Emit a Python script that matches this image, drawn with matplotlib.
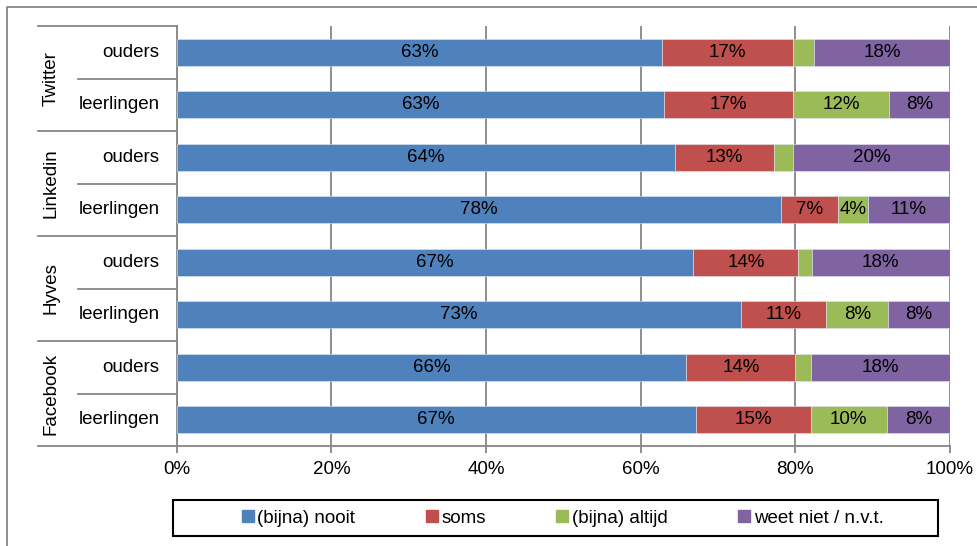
import matplotlib
matplotlib.use("Agg")
import matplotlib.pyplot as plt
import matplotlib.transforms as mtransforms
from matplotlib.patches import Rectangle
from matplotlib.lines import Line2D
import numpy as np

plt.rcParams['font.family'] = ['Liberation Sans', 'DejaVu Sans']

# data, top row first
platforms = ['Twitter', 'Linkedin', 'Hyves', 'Facebook']
groups = ['ouders', 'leerlingen']
series = ['(bijna) nooit', 'soms', '(bijna) altijd', 'weet niet / n.v.t.']
colors = ['#4F81BD', '#C0504D', '#9BBB59', '#8064A2']

nooit = [62.8, 63.0, 64.5, 78.1, 66.8, 73.0, 65.9, 67.1]
soms = [16.9, 16.7, 12.7, 7.4, 13.6, 11.0, 14.1, 14.9]
altijd = [2.7, 12.4, 2.5, 3.9, 1.7, 8.0, 2.0, 9.8]
weetniet = [17.6, 7.9, 20.3, 10.6, 17.9, 8.0, 18.0, 8.2]

waarden = np.array([nooit, soms, altijd, weetniet]) / 100.0
rijen = [g for p in platforms for g in groups]

W, H = 977, 546
fs = 13.5
fig = plt.figure(figsize=(W / 100, H / 100), dpi=100)
ax = fig.add_axes([176.7 / W, 1 - 446 / H, 773.3 / W, 420 / H])

y = np.arange(len(rijen))
links = np.zeros(len(rijen))
for i in range(len(series)):
    ax.barh(y, waarden[i], left=links, height=0.52, color=colors[i],
            edgecolor='#dfe6f0', linewidth=0.4, label=series[i], zorder=3)
    for j in range(len(rijen)):
        v = waarden[i][j]
        if v * 100 >= 3:
            ax.text(links[j] + v / 2, y[j], f'{round(v * 100)}%', ha='center', va='center',
                    fontsize=fs, color='black', zorder=4)
    links = links + waarden[i]

ax.set_xlim(0, 1)
ax.set_ylim(len(rijen) - 0.5, -0.5)
ax.set_xticks(np.arange(0, 1.01, 0.2))
ax.set_xticklabels([f'{t:.0f}%' for t in np.arange(0, 101, 20)], fontsize=fs)
ax.set_yticks([])
ax.grid(axis='x', color='#868686', linewidth=1.3, zorder=0)
ax.tick_params(axis='x', direction='out', length=5, width=1.3, color='#868686', pad=6)
for s in ['top', 'right']:
    ax.spines[s].set_visible(False)
for s in ['left', 'bottom']:
    ax.spines[s].set_color('#868686')
    ax.spines[s].set_linewidth(1.3)

# category labels with group lines on the left
trans = mtransforms.blended_transform_factory(ax.transAxes, ax.transData)
for k, p in enumerate(platforms):
    top = 2 * k - 0.5
    ax.plot([-0.179, 0], [top, top], transform=trans, color='#868686', lw=1.3, clip_on=False)
    ax.plot([-0.128, 0], [top + 1, top + 1], transform=trans, color='#868686', lw=1.3, clip_on=False)
    ax.text(-0.1625, 2 * k + 0.5, p, transform=trans, rotation=90, ha='center', va='center', fontsize=fs)
ax.plot([-0.179, 0], [len(rijen) - 0.5] * 2, transform=trans, color='#868686', lw=1.3, clip_on=False)
for j, r in enumerate(rijen):
    ax.text(-0.022, y[j], r, transform=trans, ha='right', va='center', fontsize=fs)

# legend
fig.patches.append(Rectangle((173 / W, 1 - 536 / H), 765 / W, 36 / H, transform=fig.transFigure,
                             fill=False, edgecolor='black', linewidth=1.5))
handles = [Line2D([], [], marker='s', linestyle='', markersize=8, color=c) for c in colors]
fig.legend(handles, series, loc='center', bbox_to_anchor=(560 / W, 1 - 518 / H), ncol=4,
           frameon=False, fontsize=fs, handletextpad=-0.1, columnspacing=3.5, handlelength=1.2)

# outer border
fig.add_artist(Line2D([7 / W, 7 / W, 1], [0, 1 - 7 / H, 1 - 7 / H], transform=fig.transFigure,
                      color='#868686', linewidth=1.3))

fig.savefig('out.png', dpi=100)
